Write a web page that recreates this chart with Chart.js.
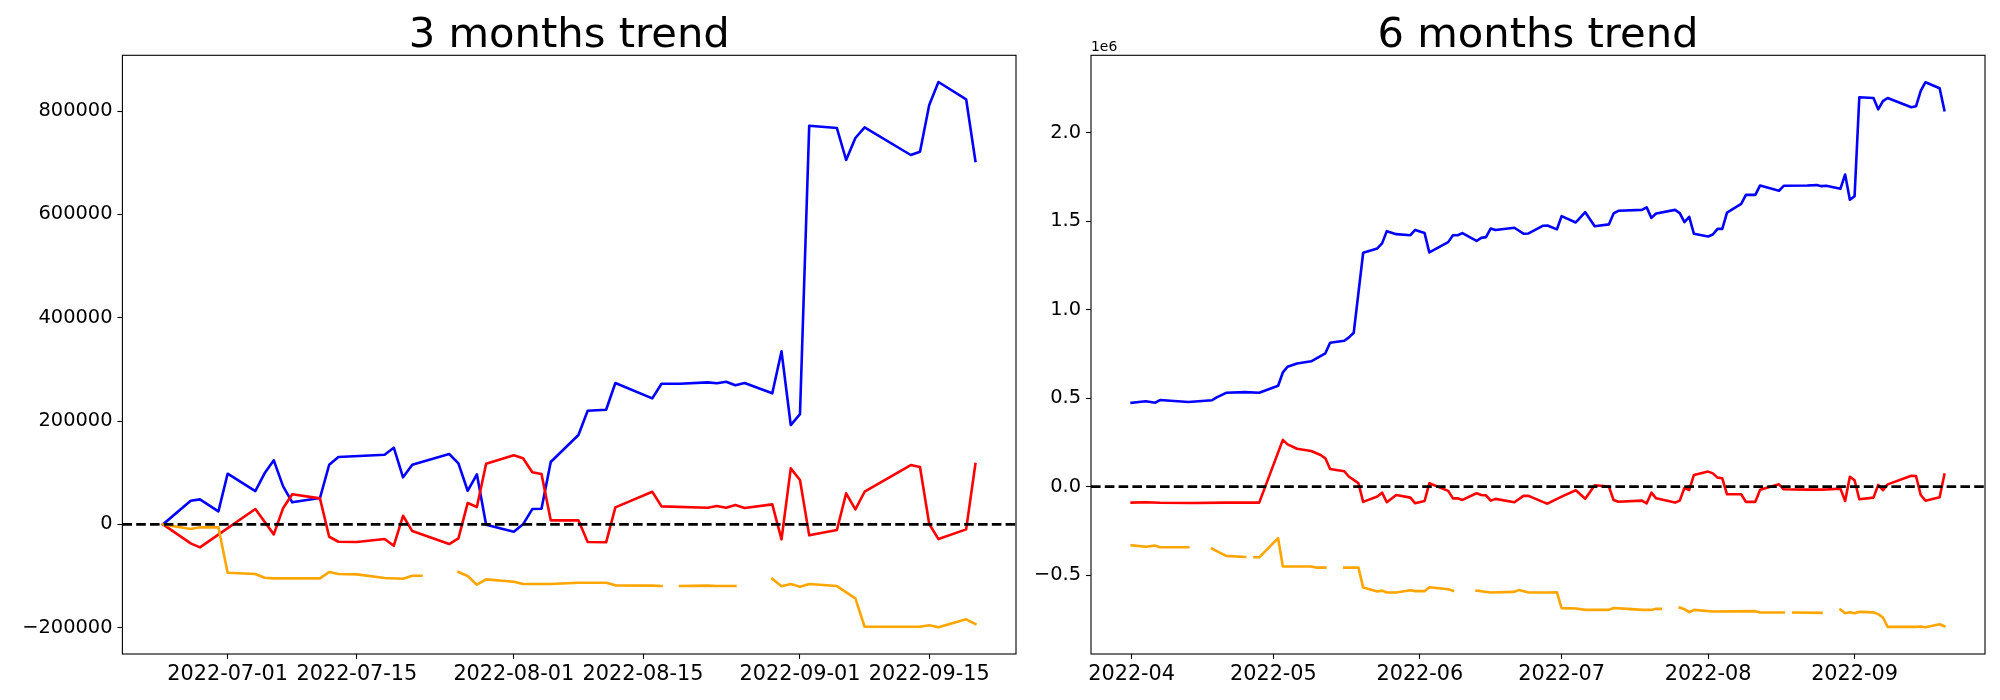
<!DOCTYPE html>
<html><head><meta charset="utf-8">
<script src="https://cdn.jsdelivr.net/npm/chart.js@4/dist/chart.umd.min.js"></script>
<style>
html,body{margin:0;padding:0;background:#fff;width:2000px;height:700px;overflow:hidden}
canvas{position:absolute;top:0}
#c1{left:0}
#c2{left:1020px}
</style></head><body>
<canvas id="c1" width="1045" height="700"></canvas>
<canvas id="c2" width="980" height="700"></canvas>
<script>
// ---------------- data (year 2022, dates as MM-DD) ----------------
const YEAR = '2022';

// 3 months trend
const leftBlueDates = ['06-24','06-27','06-28','06-30','07-01','07-04','07-05','07-06','07-07','07-08','07-11','07-12','07-13','07-18','07-19','07-20','07-21','07-25','07-26','07-27','07-28','07-29','08-01','08-02','08-03','08-04','08-05','08-08','08-09','08-11','08-12','08-16','08-17','08-19','08-22','08-23','08-24','08-25','08-26','08-29','08-30','08-31','09-01','09-02','09-05','09-06','09-07','09-08','09-13','09-14','09-15','09-16','09-19','09-20'];
const leftBlue = [0,45700,48400,25200,98000,64500,98700,123900,74100,42600,50900,115400,130300,134700,148300,91000,115400,136100,118000,65000,96800,-800,-14300,0,29600,30200,120600,172900,219900,221900,273600,243900,272200,272200,274900,273000,276100,269100,273600,253600,334900,192200,213500,771700,767200,705300,747900,768600,715000,721400,811800,856300,822800,703400];

const leftRedDates = ['06-24','06-27','06-28','07-04','07-06','07-07','07-08','07-11','07-12','07-13','07-15','07-18','07-19','07-20','07-21','07-25','07-26','07-27','07-28','07-29','08-01','08-02','08-03','08-04','08-05','08-08','08-09','08-11','08-12','08-16','08-17','08-22','08-23','08-24','08-25','08-26','08-29','08-30','08-31','09-01','09-02','09-05','09-06','09-07','09-08','09-13','09-14','09-15','09-16','09-19','09-20'];
const leftRed = [0,-36800,-44500,29600,-19400,31000,58100,50300,-24000,-33700,-34300,-28500,-41400,16600,-13000,-38100,-27100,41200,33500,117300,133600,127800,100700,97400,7700,7700,-34300,-34800,32900,63100,34800,32100,35400,32100,37400,31600,38700,-29000,108400,85800,-21300,-11000,60000,29000,63100,114800,110900,600,-28500,-9700,116700];

const leftOrangeDates = ['06-24','06-27','06-28','06-30','07-01','07-04','07-05','07-06','07-11','07-12','07-13','07-15','07-18','07-20','07-21','07-22','07-25','07-26','07-27','07-28','07-29','08-01','08-02','08-05','08-08','08-11','08-12','08-16','08-17','08-18','08-19','08-22','08-23','08-25','08-26','08-29','08-30','08-31','09-01','09-02','09-05','09-07','09-08','09-14','09-15','09-16','09-19','09-20'];
const leftOrange = [0,-9100,-5800,-5800,-93700,-96200,-103400,-104600,-104600,-92300,-96200,-96800,-104000,-105300,-99500,-99500,null,-92300,-100100,-116900,-106500,-111100,-115600,-115600,-113000,-113000,-118100,-118700,-119300,null,-119300,-118700,-119300,-119300,null,-105300,-120000,-115600,-120800,-115600,-119500,-143300,-198200,-198200,-195500,-199400,-183900,-193000];

// 6 months trend (values in units of 1e6)
const rightBlueDates = ['04-01','04-04','04-06','04-07','04-13','04-18','04-19','04-21','04-25','04-28','05-02','05-03','05-04','05-06','05-09','05-12','05-13','05-16','05-17','05-18','05-20','05-23','05-24','05-25','05-27','05-30','05-31','06-02','06-03','06-07','06-08','06-09','06-10','06-13','06-14','06-15','06-16','06-17','06-21','06-23','06-24','06-27','06-28','06-30','07-01','07-04','07-06','07-08','07-11','07-12','07-13','07-18','07-19','07-20','07-21','07-25','07-26','07-27','07-28','07-29','08-01','08-02','08-03','08-04','08-05','08-08','08-09','08-11','08-12','08-16','08-17','08-22','08-24','08-25','08-26','08-29','08-30','08-31','09-01','09-02','09-05','09-06','09-07','09-08','09-13','09-14','09-15','09-16','09-19','09-20'];
const rightBlue = [0.474,0.482,0.474,0.489,0.478,0.488,0.504,0.530,0.534,0.530,0.570,0.645,0.677,0.696,0.708,0.753,0.813,0.824,0.843,0.869,1.321,1.345,1.374,1.443,1.426,1.420,1.450,1.432,1.323,1.381,1.420,1.420,1.432,1.388,1.405,1.409,1.458,1.449,1.462,1.428,1.430,1.473,1.475,1.453,1.528,1.492,1.550,1.471,1.481,1.543,1.558,1.563,1.577,1.518,1.543,1.563,1.545,1.494,1.524,1.428,1.413,1.424,1.456,1.456,1.548,1.597,1.648,1.648,1.701,1.671,1.699,1.701,1.703,1.697,1.699,1.682,1.763,1.620,1.640,2.199,2.195,2.131,2.177,2.195,2.143,2.148,2.235,2.284,2.250,2.126];

const rightRedDates = ['04-01','04-04','04-07','04-14','04-21','04-28','05-03','05-04','05-06','05-09','05-11','05-12','05-13','05-16','05-17','05-18','05-19','05-20','05-23','05-24','05-25','05-27','05-30','05-31','06-02','06-03','06-07','06-08','06-09','06-10','06-13','06-14','06-15','06-16','06-17','06-21','06-23','06-24','06-27','06-28','07-01','07-04','07-06','07-08','07-11','07-12','07-13','07-18','07-19','07-20','07-21','07-25','07-26','07-27','07-28','07-29','08-01','08-02','08-03','08-04','08-05','08-08','08-09','08-11','08-12','08-16','08-17','08-22','08-24','08-25','08-26','08-29','08-30','08-31','09-01','09-02','09-05','09-06','09-07','09-08','09-13','09-14','09-15','09-16','09-19','09-20'];
const rightRed = [-0.090,-0.088,-0.091,-0.092,-0.090,-0.090,0.264,0.239,0.214,0.201,0.179,0.160,0.100,0.087,0.056,0.038,0.019,-0.086,-0.056,-0.034,-0.088,-0.047,-0.062,-0.094,-0.081,0.019,-0.024,-0.066,-0.066,-0.075,-0.037,-0.047,-0.049,-0.079,-0.069,-0.088,-0.051,-0.052,-0.086,-0.096,-0.056,-0.020,-0.068,0.008,0.000,-0.075,-0.085,-0.079,-0.094,-0.034,-0.066,-0.090,-0.079,-0.006,-0.019,0.066,0.085,0.075,0.051,0.047,-0.043,-0.043,-0.086,-0.086,-0.017,0.013,-0.015,-0.017,-0.016,-0.017,-0.016,-0.011,-0.081,0.056,0.036,-0.071,-0.062,0.010,-0.020,0.013,0.062,0.060,-0.047,-0.079,-0.060,0.068];

const rightOrangeDates = ['04-01','04-04','04-06','04-07','04-13','04-14','04-18','04-21','04-25','04-26','04-27','04-28','05-02','05-03','05-09','05-10','05-12','05-13','05-16','05-19','05-20','05-23','05-24','05-25','05-27','05-30','05-31','06-02','06-03','06-07','06-08','06-09','06-13','06-16','06-21','06-22','06-24','06-28','06-30','07-01','07-04','07-06','07-11','07-12','07-15','07-18','07-20','07-21','07-22','07-25','07-26','07-27','07-28','07-29','08-02','08-11','08-12','08-17','08-18','08-19','08-25','08-26','08-29','08-30','08-31','09-01','09-02','09-05','09-06','09-07','09-08','09-14','09-15','09-16','09-19','09-20'];
const rightOrange = [-0.331,-0.339,-0.333,-0.342,-0.342,null,-0.350,-0.391,-0.397,null,-0.399,-0.399,-0.291,-0.451,-0.451,-0.457,-0.457,null,-0.457,-0.457,-0.570,-0.592,-0.587,-0.598,-0.598,-0.585,-0.590,-0.590,-0.568,-0.579,-0.588,null,-0.587,-0.598,-0.594,-0.583,-0.598,-0.598,-0.596,-0.686,-0.688,-0.696,-0.696,-0.685,-0.690,-0.696,-0.696,-0.690,-0.690,null,-0.683,-0.692,-0.709,-0.696,-0.705,-0.703,-0.711,-0.711,null,-0.711,-0.713,null,-0.694,-0.715,-0.709,-0.715,-0.707,-0.710,-0.720,-0.739,-0.792,-0.792,-0.790,-0.794,-0.777,-0.788];

// tick labels
const leftXTicks = ['2022-07-01','2022-07-15','2022-08-01','2022-08-15','2022-09-01','2022-09-15'];
const rightXTicks = ['2022-04','2022-05','2022-06','2022-07','2022-08','2022-09'];
const leftYTicks = [-200000,0,200000,400000,600000,800000];
const rightYTicks = [-0.5,0.0,0.5,1.0,1.5,2.0];

const titles = ['3 months trend','6 months trend'];
const rightOffsetText = '1e6';

// ---------------- helpers ----------------
const DAY = 86400000;
function toDay(s){ const p = s.split('-').map(Number); return Date.UTC(p[0], p[1]-1, p[2]||1)/DAY; }
function md(s){ return toDay(YEAR+'-'+s); }
function series(dates, vals){ return dates.map((d,i)=>({x: md(d), y: vals[i]})); }
function minusFmt(s){ return s.replace('-', '\u2212'); }

Chart.defaults.font.family = '"DejaVu Sans", sans-serif';
Chart.defaults.color = '#000';

const YFONT = 19.4, XFONT = 20.8;

const decorPlugin = {
  id: 'decor',
  afterDatasetsDraw(chart, args, opts) {
    const ctx = chart.ctx, a = chart.chartArea, y = chart.scales.y;
    const y0 = y.getPixelForValue(0);
    ctx.save();
    ctx.beginPath(); ctx.rect(a.left, a.top, a.right - a.left, a.bottom - a.top); ctx.clip();
    ctx.strokeStyle = '#000'; ctx.lineWidth = 2.7; ctx.setLineDash([9.6, 4.2]);
    ctx.beginPath(); ctx.moveTo(a.left, y0); ctx.lineTo(a.right, y0); ctx.stroke();
    ctx.restore();
  },
  afterDraw(chart, args, opts) {
    const ctx = chart.ctx, a = chart.chartArea;
    ctx.save();
    ctx.strokeStyle = '#000'; ctx.lineWidth = 1.1; ctx.setLineDash([]);
    ctx.strokeRect(a.left, a.top, a.right - a.left, a.bottom - a.top);
    ctx.fillStyle = '#000';
    ctx.font = '41.7px "DejaVu Sans"';
    ctx.textAlign = 'center'; ctx.textBaseline = 'alphabetic';
    ctx.fillText(opts.title, (a.left + a.right) / 2, a.top - 8.3);
    if (opts.offset) {
      ctx.font = '13.9px "DejaVu Sans"';
      ctx.textAlign = 'left';
      ctx.fillText(opts.offset, a.left, a.top - 4.8);
    }
    ctx.restore();
  }
};

function makeChart(id, canvasW, areaLeft, areaRight, d, xTickLabels, yTicks, yMin, yMax, yFmt, title, offset) {
  const allX = [].concat(d[0], d[2], d[4]).map(md);
  const x0 = Math.min(...allX), x1 = Math.max(...allX), m = 0.05 * (x1 - x0);
  const tickGrid = { drawOnChartArea: false, drawTicks: true, tickLength: 5, tickWidth: 1.1, tickColor: '#000' };
  return new Chart(document.getElementById(id), {
    type: 'line',
    data: { datasets: [
      { data: series(d[0], d[1]), borderColor: '#0000ff', order: 3 },
      { data: series(d[2], d[3]), borderColor: '#ff0000', order: 2 },
      { data: series(d[4], d[5]), borderColor: '#ffa500', order: 1 }
    ]},
    options: {
      responsive: false, animation: false, devicePixelRatio: 1,
      spanGaps: false,
      elements: {
        line: { borderWidth: 2.6, tension: 0, borderJoinStyle: 'round', borderCapStyle: 'square', fill: false },
        point: { radius: 0, hoverRadius: 0 }
      },
      layout: { padding: { left: 0, top: 55.3, right: canvasW - areaRight, bottom: 0 } },
      plugins: { legend: { display: false }, tooltip: { enabled: false }, title: { display: false },
                 decor: { title: title, offset: offset } },
      scales: {
        x: {
          type: 'linear', min: x0 - m, max: x1 + m,
          afterBuildTicks(s) { s.ticks = xTickLabels.map(l => ({ value: toDay(l) })); },
          afterFit(s) { s.height = 46; },
          ticks: { font: { size: XFONT }, color: '#000', padding: 3.5, maxRotation: 0, autoSkip: false,
                   callback: (v, i) => xTickLabels[i] },
          grid: tickGrid, border: { display: false }
        },
        y: {
          type: 'linear', min: yMin, max: yMax,
          afterBuildTicks(s) { s.ticks = yTicks.map(v => ({ value: v })); },
          afterFit(s) { s.width = areaLeft; },
          ticks: { font: { size: YFONT }, color: '#000', padding: 4.9, autoSkip: false,
                   callback: (v) => yFmt(v) },
          grid: tickGrid, border: { display: false }
        }
      }
    },
    plugins: [decorPlugin]
  });
}

makeChart('c1', 1045, 122.4, 1016,
  [leftBlueDates, leftBlue, leftRedDates, leftRed, leftOrangeDates, leftOrange],
  leftXTicks, leftYTicks, -251000, 908000,
  v => minusFmt(String(v)), titles[0], null);

makeChart('c2', 980, 71, 965,
  [rightBlueDates, rightBlue, rightRedDates, rightRed, rightOrangeDates, rightOrange],
  rightXTicks, rightYTicks, -0.945, 2.436,
  v => minusFmt(Number(v).toFixed(1)), titles[1], rightOffsetText);
</script>
</body></html>
